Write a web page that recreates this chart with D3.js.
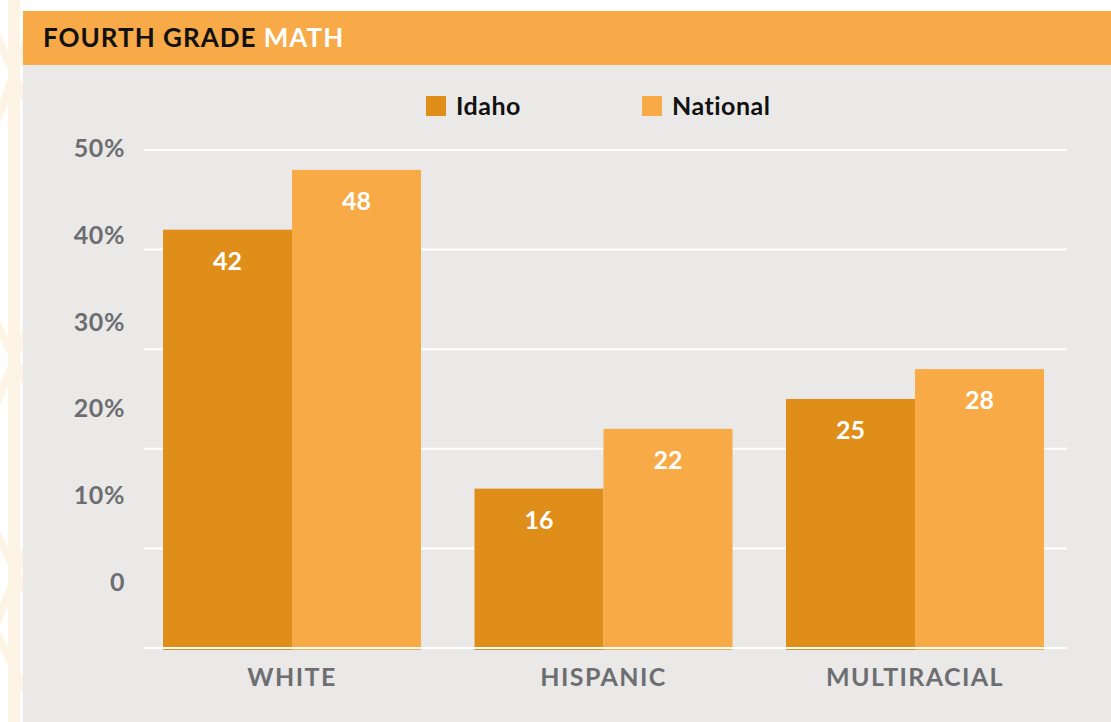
<!DOCTYPE html>
<html lang="en">
<head>
  <meta charset="UTF-8">
  <title>Fourth Grade Math</title>
  <script src="https://d3js.org/d3.v7.min.js"></script>
  <style>
    body { margin: 0; background: #fff; }
    svg text { font-family: 'Lato', 'Open Sans', sans-serif; font-weight: 700; }
    .tick-label { fill: #6d6e71; font-size: 25px; text-anchor: end; letter-spacing: 0.6px; }
    .cat-label { fill: #6d6e71; font-size: 25px; text-anchor: middle; letter-spacing: 1.4px; }
    .value-label { fill: #fff; font-size: 25px; text-anchor: middle; }
    .legend-label { fill: #111; font-size: 25px; letter-spacing: 0.5px; }
  </style>
</head>
<body>
<div id="chart"></div>
<script>
  // data
  const categories = ['WHITE', 'HISPANIC', 'MULTIRACIAL'];
  const series = ['Idaho', 'National'];
  const idaho = [42, 16, 25];
  const national = [48, 22, 28];
  const tickValues = [0, 10, 20, 30, 40, 50];
  const tickLabels = ['0', '10%', '20%', '30%', '40%', '50%'];
  const colors = ['#e08e1a', '#f8aa46'];

  const width = 1111, height = 722;
  const svg = d3.select('#chart').append('svg')
    .attr('width', width)
    .attr('height', height);

  // faint decoration on the left edge
  const deco = svg.append('g').attr('fill', 'none').attr('stroke', '#fef4e6');
  deco.append('line').attr('x1', 14).attr('y1', 0).attr('x2', 14).attr('y2', 722).attr('stroke-width', 12);
  [[-10, 20, 30, 110], [30, 30, -10, 140], [-10, 310, 30, 390], [30, 320, -10, 420],
   [-10, 520, 30, 600], [30, 540, -10, 640], [-10, 620, 30, 700]].forEach(d => {
    deco.append('line').attr('x1', d[0]).attr('y1', d[1]).attr('x2', d[2]).attr('y2', d[3]).attr('stroke-width', 8);
  });

  // panel + title bar
  svg.append('rect').attr('x', 23).attr('y', 11).attr('width', width - 23).attr('height', height - 11).attr('fill', '#eae9e7');
  svg.append('rect').attr('x', 23).attr('y', 11).attr('width', width - 23).attr('height', 54).attr('fill', '#f7aa47');
  const title = svg.append('text').attr('x', 43).attr('y', 47)
    .style('font-size', '26px').style('letter-spacing', '1px');
  title.append('tspan').attr('fill', '#111').text('FOURTH GRADE ');
  title.append('tspan').attr('fill', '#fff').text('MATH');

  // scales
  const y = d3.scaleLinear().domain([0, 50]).range([648, 150]);
  // the labels in the original sit on their own spacing
  const yLabel = d3.scaleLinear().domain([0, 50]).range([582, 148]);

  const groupStep = 311.5, barW = 129;
  const gx = d3.scalePoint().domain(categories).range([163, 163 + groupStep * 2]);
  const sx = d3.scaleBand().domain(series).range([0, barW * 2]);

  // grid lines
  svg.append('g').selectAll('line')
    .data(tickValues.filter(v => v > 0))
    .join('line')
    .attr('x1', 144).attr('x2', 1067)
    .attr('y1', d => y(d)).attr('y2', d => y(d))
    .attr('stroke', '#fff').attr('stroke-width', 2);

  // tick labels
  svg.append('g').selectAll('text')
    .data(tickValues)
    .join('text')
    .attr('class', 'tick-label')
    .attr('x', 125)
    .attr('y', d => yLabel(d) + 9)
    .text((d, i) => tickLabels[i]);

  // bars
  const rows = categories.map((c, i) => ({ cat: c, values: [idaho[i], national[i]] }));
  const groups = svg.append('g').selectAll('g')
    .data(rows)
    .join('g')
    .attr('transform', d => `translate(${gx(d.cat)},0)`);

  groups.selectAll('rect')
    .data(d => d.values.map((v, j) => ({ key: series[j], v, j })))
    .join('rect')
    .attr('x', d => sx(d.key))
    .attr('y', d => y(d.v))
    .attr('width', sx.bandwidth())
    .attr('height', d => y(0) - y(d.v) + 2)
    .attr('fill', d => colors[d.j]);

  groups.selectAll('text')
    .data(d => d.values.map((v, j) => ({ key: series[j], v })))
    .join('text')
    .attr('class', 'value-label')
    .attr('x', d => sx(d.key) + sx.bandwidth() / 2)
    .attr('y', d => y(d.v) + 40)
    .text(d => d.v);

  // baseline
  svg.append('line')
    .attr('x1', 144).attr('x2', 1067)
    .attr('y1', y(0)).attr('y2', y(0))
    .attr('stroke', '#fff').attr('stroke-width', 2);

  // category labels
  svg.append('g').selectAll('text')
    .data(categories)
    .join('text')
    .attr('class', 'cat-label')
    .attr('x', d => gx(d) + barW)
    .attr('y', 686)
    .text(d => d);

  // legend
  const legendX = [426, 642];
  const legend = svg.append('g').selectAll('g')
    .data(series)
    .join('g')
    .attr('transform', (d, i) => `translate(${legendX[i]},96)`);
  legend.append('rect').attr('width', 20).attr('height', 20).attr('fill', (d, i) => colors[i]);
  legend.append('text').attr('class', 'legend-label').attr('x', 30).attr('y', 19).text(d => d);
</script>
</body>
</html>
